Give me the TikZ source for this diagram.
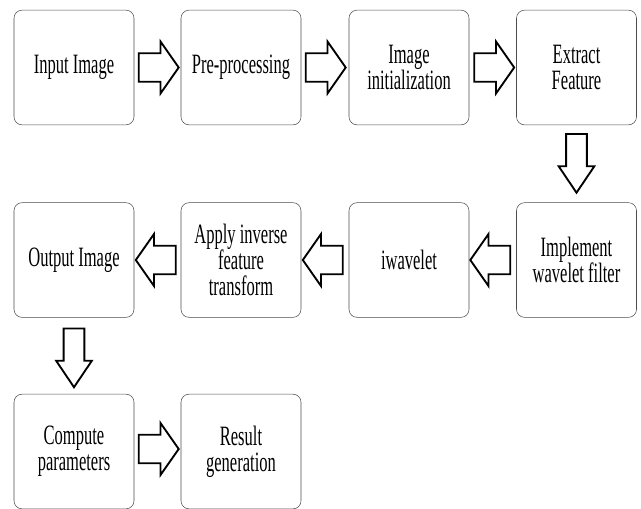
\documentclass[tikz,border=0pt]{standalone}
\usepackage{fontspec}
\setmainfont{Liberation Serif}[FakeStretch=0.59]
\usetikzlibrary{shapes.arrows,calc}

\begin{document}
\begin{tikzpicture}[x=0.75pt,y=-0.75pt,
    stage/.style={draw=black!70,rounded corners=6pt,minimum width=90pt,minimum height=86pt,
        align=center,inner sep=0pt,font=\fontsize{21}{19.5}\selectfont},
    flow/.style={single arrow,draw,line width=1.4pt,fill=white,inner sep=10pt,
        minimum height=30pt,minimum width=0pt,single arrow head extend=8.75pt,
        single arrow tip angle=110,anchor=tail},
    flowleft/.style={flow,shape border rotate=180},
    flowdown/.style={flow,inner sep=7.1pt,minimum height=44pt,
        single arrow head extend=5.6pt,single arrow tip angle=68,shape border rotate=270}]
    \useasboundingbox (0,0) rectangle (641,508);
    % first row
    \node[stage] (input) at (74,67.5) {Input Image};
    \node[stage] (prep) at (241,67.5) {Pre-processing};
    \node[stage] (init) at (409,67.5) {Image\\initialization};
    \node[stage] (extract) at (576.5,67.5) {Extract\\Feature};
    % second row
    \node[stage] (wfilter) at (576.5,260) {Implement\\wavelet filter};
    \node[stage] (iwav) at (409,260) {iwavelet};
    \node[stage] (inverse) at (241,260) {Apply inverse\\feature\\transform};
    \node[stage] (output) at (74,260) {Output Image};
    % third row
    \node[stage] (params) at (74,451.5) {Compute\\parameters};
    \node[stage] (result) at (241,451.5) {Result\\generation};
    % arrows
    \node[flow] (a1) at ($(input.east)+(3.5,0)$) {};
    \node[flow] (a2) at ($(prep.east)+(3.5,0)$) {};
    \node[flow] (a3) at ($(init.east)+(4,0)$) {};
    \node[flowdown] (a4) at ($(extract.south)+(0,8)$) {};
    \node[flowleft] (a5) at ($(wfilter.west)+(-5,0)$) {};
    \node[flowleft] (a6) at ($(iwav.west)+(-5,0)$) {};
    \node[flowleft] (a7) at ($(inverse.west)+(-4,0)$) {};
    \node[flowdown] (a8) at ($(output.south)+(0,10)$) {};
    \node[flow] (a9) at ($(params.east)+(3.5,-2.5)$) {};
\end{tikzpicture}
\end{document}
